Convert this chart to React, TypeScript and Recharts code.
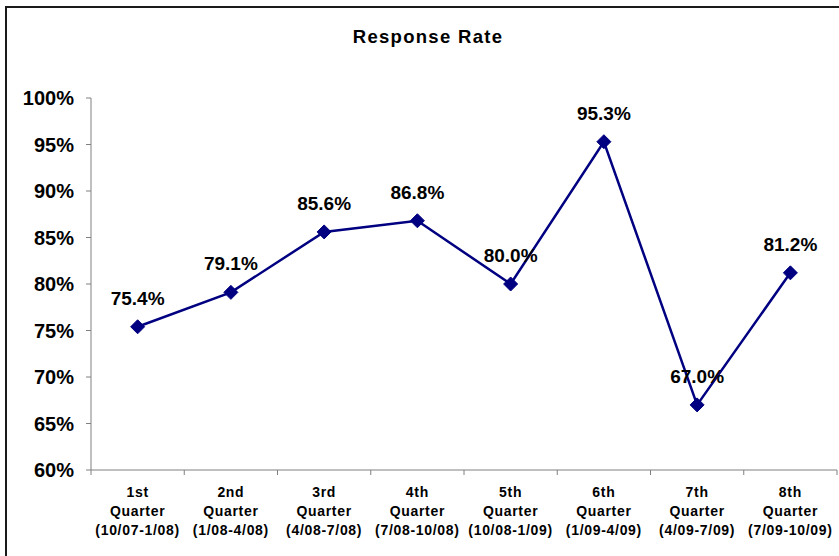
import React from 'react'
import { LineChart, Line, XAxis, YAxis } from 'recharts'

const quarters = ['1st', '2nd', '3rd', '4th', '5th', '6th', '7th', '8th']
const periods = [
  '(10/07-1/08)',
  '(1/08-4/08)',
  '(4/08-7/08)',
  '(7/08-10/08)',
  '(10/08-1/09)',
  '(1/09-4/09)',
  '(4/09-7/09)',
  '(7/09-10/09)'
]
const responseRate = [75.4, 79.1, 85.6, 86.8, 80.0, 95.3, 67.0, 81.2]
const yTicks = [60, 65, 70, 75, 80, 85, 90, 95, 100]

const W = 839
const H = 556
const Y_AXIS_W = 91
const MARGIN = { top: 98, right: 2, bottom: 0, left: 0 }
const X_AXIS_H = 86
const FONT = '"Liberation Sans", Arial, sans-serif'
const NAVY = '#000080'

// points sit in the middle of each quarter, ticks on the boundaries
const data = responseRate.map((value, i) => ({ pos: i + 0.5, value }))
const boundaries = quarters.map((_, i) => i).concat([quarters.length])
const halfBand = (W - Y_AXIS_W - MARGIN.right) / quarters.length / 2

const QuarterTick = (props: any) => {
  const { x, y, payload } = props
  const i = payload.value
  if (i >= quarters.length) return null
  const cx = x + halfBand
  return (
    <text
      x={cx}
      y={y}
      textAnchor="middle"
      fontFamily={FONT}
      fontWeight="bold"
      fontSize={14}
      letterSpacing={0.7}
      fill="#000"
    >
      <tspan x={cx} dy={20}>{quarters[i]}</tspan>
      <tspan x={cx} dy={19}>Quarter</tspan>
      <tspan x={cx} dy={19}>{periods[i]}</tspan>
    </text>
  )
}

const Diamond = (props: any) => {
  const { cx, cy } = props
  if (cx == null || cy == null) return null
  const r = 7
  return (
    <polygon
      points={`${cx},${cy - r} ${cx + r},${cy} ${cx},${cy + r} ${cx - r},${cy}`}
      fill={NAVY}
      stroke={NAVY}
    />
  )
}

const ValueLabel = (props: any) => {
  const { x, y, value } = props
  return (
    <text
      x={x}
      y={y - 22}
      textAnchor="middle"
      fontFamily={FONT}
      fontWeight="bold"
      fontSize={19}
      fill="#000"
    >
      {`${Number(value).toFixed(1)}%`}
    </text>
  )
}

export default function App() {
  return (
    <div
      style={{
        position: 'absolute',
        left: 0,
        top: 0,
        width: W,
        height: H,
        background: '#fff',
        overflow: 'hidden'
      }}
    >
      <div
        style={{
          position: 'absolute',
          left: 5,
          top: 6,
          width: 900,
          height: 700,
          border: '2px solid #1a1a1a'
        }}
      />
      <div style={{ position: 'absolute', left: 0, top: 0 }}>
        <LineChart width={W} height={H} data={data} margin={MARGIN}>
          <text
            x={428}
            y={43}
            textAnchor="middle"
            fontFamily={FONT}
            fontWeight="bold"
            fontSize={18.5}
            letterSpacing={1.3}
            fill="#000"
          >
            Response Rate
          </text>
          <XAxis
            dataKey="pos"
            type="number"
            domain={[0, quarters.length]}
            ticks={boundaries}
            interval={0}
            height={X_AXIS_H}
            tickSize={5}
            stroke="#808080"
            tick={<QuarterTick />}
          />
          <YAxis
            type="number"
            domain={[60, 100]}
            ticks={yTicks}
            interval={0}
            width={Y_AXIS_W}
            tickSize={5}
            tickMargin={12}
            stroke="#808080"
            tickFormatter={(v: number) => `${v}%`}
            tick={{ fill: '#000', fontFamily: FONT, fontWeight: 'bold', fontSize: 20 }}
          />
          <Line
            type="linear"
            dataKey="value"
            stroke={NAVY}
            strokeWidth={2.5}
            dot={<Diamond />}
            activeDot={false}
            label={<ValueLabel />}
            isAnimationActive={false}
          />
        </LineChart>
      </div>
    </div>
  )
}
